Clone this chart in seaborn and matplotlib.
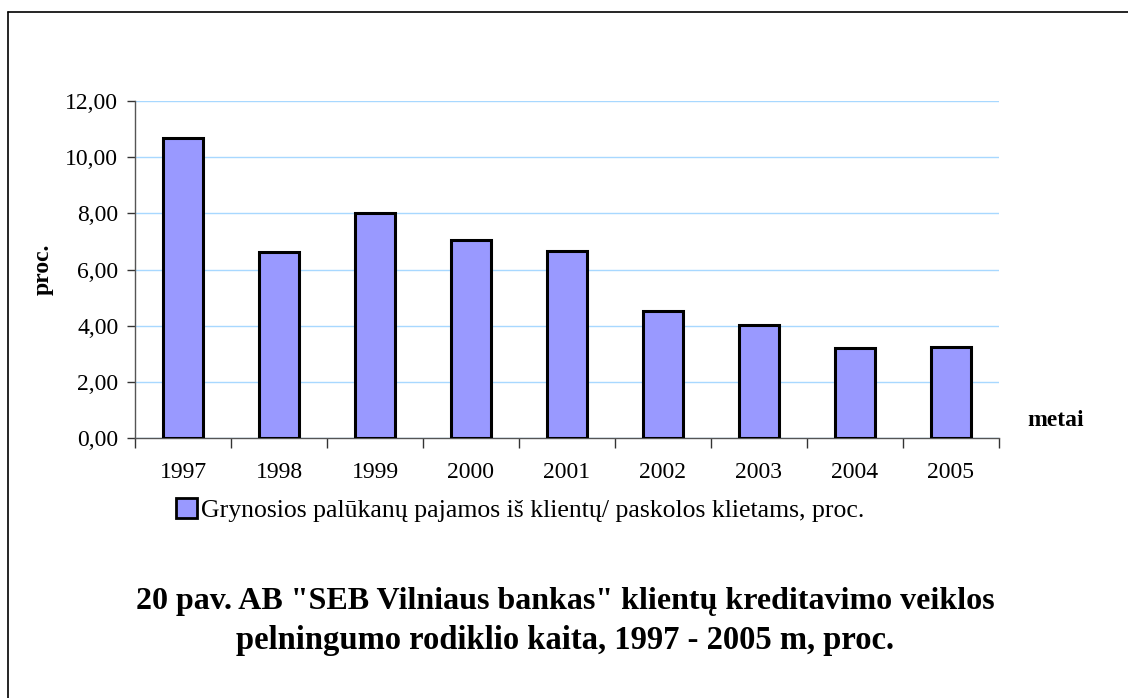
import matplotlib
matplotlib.use("Agg")
import matplotlib.pyplot as plt
import seaborn as sns
import pandas as pd
from matplotlib.ticker import FuncFormatter
from matplotlib.lines import Line2D
from matplotlib.patches import Patch

years = ["1997", "1998", "1999", "2000", "2001", "2002", "2003", "2004", "2005"]
values = [10.68, 6.61, 8.02, 7.04, 6.67, 4.51, 4.01, 3.19, 3.23]
series_name = "Grynosios palūkanų pajamos iš klientų/ paskolos klietams, proc."
y_ticks = [0, 2, 4, 6, 8, 10, 12]
title_lines = ['20 pav. AB "SEB Vilniaus bankas" klientų kreditavimo veiklos',
               'pelningumo rodiklio kaita, 1997 - 2005 m, proc.']

sns.set_theme(style="white")
plt.rcParams['font.family'] = ['Liberation Serif', 'DejaVu Serif']
plt.rcParams.update({"text.color": "black", "axes.labelcolor": "black",
                     "xtick.color": "black", "ytick.color": "black"})

df = pd.DataFrame({"year": years, "value": values})

fig = plt.figure(figsize=(11.28, 6.98), dpi=100)
ax = fig.add_axes([135/1128, 1 - 438/698, (999-135)/1128, (438-101)/698])

sns.barplot(data=df, x="year", y="value", color="#9999FF", width=0.42,
            edgecolor="black", linewidth=2.2, saturation=1, ax=ax, zorder=3)

ax.set_ylim(0, 12)
ax.set_xlim(-0.5, len(years) - 0.5)
ax.set_yticks(y_ticks)
ax.yaxis.set_major_formatter(FuncFormatter(lambda v, p: f"{v:.2f}".replace(".", ",")))
ax.yaxis.grid(True, color="#A8D8FF", linewidth=1, zorder=0)
ax.set_axisbelow(True)

for s in ["top", "right"]:
    ax.spines[s].set_visible(False)
for s in ["left", "bottom"]:
    ax.spines[s].set_color("#555555")
    ax.spines[s].set_linewidth(1)

# category boundary ticks on x axis
ax.set_xticks([i - 0.5 for i in range(len(years) + 1)], minor=True)
ax.set_xticks(range(len(years)))
ax.set_xticklabels(years)
ax.tick_params(axis="x", which="major", length=0, pad=17, labelsize=17, labelcolor="black")
ax.tick_params(axis="x", which="minor", length=7, width=1, color="#333333", direction="out", bottom=True)
ax.tick_params(axis="y", length=6, width=1, color="#333333", direction="out", left=True,
               labelsize=17, pad=6, labelcolor="black")

ax.set_xlabel("")
ax.set_ylabel("proc.", fontsize=17, fontweight="bold", color="black")
ax.yaxis.set_label_coords((54 - 135) / 864, 0.5)

fig.text(1056/1128, 1 - 420/698, "metai", fontsize=17, fontweight="bold", ha="center", va="center", color="black")

handle = Patch(facecolor="#9999FF", edgecolor="black", linewidth=2)
leg = fig.legend([handle], [series_name], loc="center", bbox_to_anchor=(520/1128, 1 - 510/698),
                 frameon=False, fontsize=18.5, handlelength=0.8, handleheight=0.8, handletextpad=0.15)
for t in leg.get_texts():
    t.set_color("black")

fig.text(565/1128, 1 - 602/698, title_lines[0], fontsize=23, fontweight="bold", ha="center", va="center", color="black")
fig.text(565/1128, 1 - 641/698, title_lines[1], fontsize=23.5, fontweight="bold", ha="center", va="center", color="black")

# outer frame (top and left edges visible)
fig.add_artist(Line2D([8/1128, 1], [1 - 12/698, 1 - 12/698], color="black", linewidth=1.2, transform=fig.transFigure))
fig.add_artist(Line2D([8/1128, 8/1128], [0, 1 - 12/698], color="black", linewidth=1.2, transform=fig.transFigure))

fig.savefig("out.png", dpi=100, facecolor="white")
